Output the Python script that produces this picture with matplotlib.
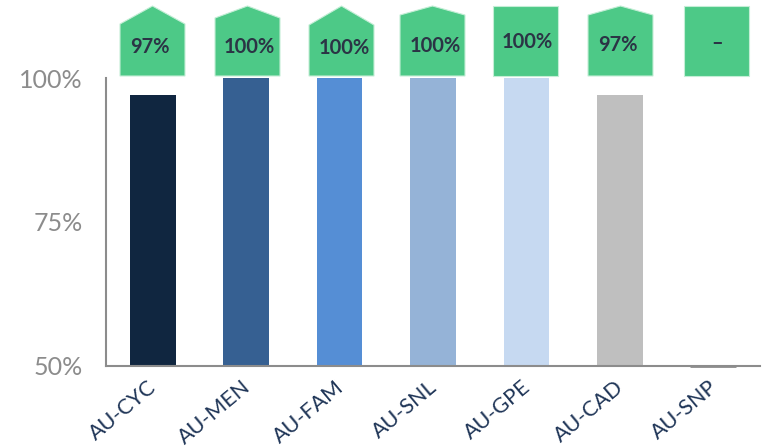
import matplotlib
matplotlib.use("Agg")
import matplotlib.pyplot as plt
from matplotlib.patches import Polygon
from matplotlib.transforms import Affine2D, ScaledTranslation

categories = ["AU-CYC", "AU-MEN", "AU-FAM", "AU-SNL", "AU-GPE", "AU-CAD", "AU-SNP"]
values = [97, 100, 100, 100, 100, 97, 50]
labels = ["97%", "100%", "100%", "100%", "100%", "97%", "–"]
colors = ["#102640", "#366092", "#558ED5", "#95B3D7", "#C6D9F1", "#BFBFBF", "#8C8C8C"]
yticks = [50, 75, 100]

# callout shapes, in pixels of the picture: left edge, shoulder y, text x, text y
box_left = [120, 215, 309, 400, 493, 588, 684]
box_shoulder = [24, 18, 25, 15, 6, 15, 6]
text_x = [150, 249, 344, 435, 527, 618, 717]
text_y = [47, 47, 48, 46, 42, 45, 43]

W, H = 765, 447
bar_w = 0.49
plt.rcParams["font.family"] = ["Lato", "DejaVu Sans"]

fig = plt.figure(figsize=(W / 100, H / 100), dpi=100)
ax = fig.add_axes([106 / W, 1 - 365.5 / H, 654 / W, 287.5 / H])

x = range(len(categories))
ax.bar(x, values, width=bar_w, color=colors)
# the last bar sits on the axis floor, only its edge shows
ax.plot([6 - bar_w / 2, 6 + bar_w / 2], [values[6], values[6]], color=colors[6], lw=2,
        clip_on=False, zorder=4, solid_capstyle="butt")
ax.set_xlim(-0.5, 6.5)
ax.set_ylim(50, 100)

for s in ["top", "right"]:
    ax.spines[s].set_visible(False)
for s in ["left", "bottom"]:
    ax.spines[s].set_color("#8C8C8C")
    ax.spines[s].set_linewidth(1.5)

ax.set_yticks(yticks)
ax.set_yticklabels([f"{v}%" for v in yticks], fontsize=18, color="#8C8C8C")
ax.tick_params(axis="y", length=0, pad=17)
ax.tick_params(axis="x", length=0, pad=8)
ax.set_xticks(list(x))
ax.set_xticklabels(categories, fontsize=15.5, color="#1F3557", rotation=40, ha="right",
                   rotation_mode="anchor")
shift = ScaledTranslation(-5 / 100, 0, fig.dpi_scale_trans)
for t in ax.get_xticklabels():
    t.set_transform(t.get_transform() + shift)

# pixel coords with y going down
px = Affine2D().scale(1, -1).translate(0, H)
for i, left in enumerate(box_left):
    right = left + 65
    mid = left + 32.5
    pts = [(left, 76), (left, box_shoulder[i]), (mid, 6), (right, box_shoulder[i]), (right, 76)]
    if box_shoulder[i] == 6:
        pts = [(left, 76), (left, 6), (right, 6), (right, 76)]
    fig.add_artist(Polygon(pts, closed=True, transform=px, facecolor="#4DC987",
                           edgecolor="#C4EED6", lw=0.8))
    fig.text(text_x[i], text_y[i], labels[i], transform=px, ha="center", va="center",
             fontsize=14.5, fontweight="bold", color="#2B3445")

fig.savefig("out.png", dpi=100)
